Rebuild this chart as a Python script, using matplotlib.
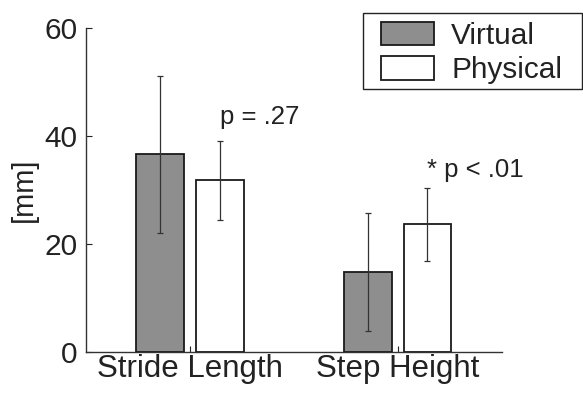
import matplotlib
matplotlib.use("Agg")
import matplotlib.pyplot as plt
from matplotlib.patches import Rectangle
import numpy as np

categories = ["Stride Length", "Step Height"]
series = ["Virtual", "Physical"]
virtual_mean = [36.6, 14.7]
virtual_upper = [51.2, 25.7]
virtual_lower = [22.0, 3.8]
physical_mean = [31.8, 23.6]
physical_upper = [39.0, 30.4]
physical_lower = [24.4, 16.9]
annotations = ["p = .27", "* p < .01"]
yticks = [0, 20, 40, 60]

plt.rcParams['font.family'] = ['Liberation Sans', 'DejaVu Sans']

W, H = 583, 394
fig = plt.figure(figsize=(W / 100, H / 100), dpi=100)
ax = fig.add_axes([86 / W, 1 - 351.7 / H, (501.7 - 86) / W, (351.7 - 28.3) / H])

x = np.arange(1, len(categories) + 1)
w = 0.23
off = 0.143

vm = np.array(virtual_mean)
pm = np.array(physical_mean)
verr = [vm - np.array(virtual_lower), np.array(virtual_upper) - vm]
perr = [pm - np.array(physical_lower), np.array(physical_upper) - pm]

ax.bar(x - off, vm, w, color='#8e8e8e', edgecolor='#1a1a1a', linewidth=1.3,
       label=series[0], zorder=2)
ax.bar(x + off, pm, w, color='white', edgecolor='#1a1a1a', linewidth=1.3,
       label=series[1], zorder=2)
ax.errorbar(x - off, vm, yerr=verr, fmt='none', ecolor='#333333', elinewidth=0.9,
            capsize=2.3, capthick=0.9, zorder=3)
ax.errorbar(x + off, pm, yerr=perr, fmt='none', ecolor='#333333', elinewidth=0.9,
            capsize=2.3, capthick=0.9, zorder=3)

ax.set_xlim(0.5, 2.5)
ax.set_ylim(0, 60)
ax.set_yticks(yticks)
ax.set_xticks(x)
ax.set_xticklabels(categories)
ax.tick_params(axis='both', direction='in', length=4, width=0.8,
               colors='#222222')
ax.tick_params(axis='y', labelsize=21.5, pad=6)
ax.tick_params(axis='x', labelsize=22.5, pad=2)
ax.spines['top'].set_visible(False)
ax.spines['right'].set_visible(False)
for s in ['left', 'bottom']:
    ax.spines[s].set_color('#333333')
    ax.spines[s].set_linewidth(1.0)
ax.set_ylabel('[mm]', fontsize=21, color='#222222', labelpad=5)

ax.text(x[0] + off, physical_upper[0] + 3.2, annotations[0], ha='left',
        va='baseline', fontsize=18.5, color='#222222')
ax.text(x[1] + off - 0.004, physical_upper[1] + 2.1, annotations[1], ha='left',
        va='baseline', fontsize=18.5, color='#222222')

fs = 21.4
fpx = fs * 100 / 72
leg = fig.legend(loc='upper left', bbox_to_anchor=(381 / W, 1 - 21.5 / H),
                 bbox_transform=fig.transFigure, fontsize=fs, frameon=False,
                 borderaxespad=0, borderpad=0,
                 handlelength=53 / fpx, handleheight=25 / fpx,
                 labelspacing=0.23, handletextpad=17 / fpx)
for t in leg.get_texts():
    t.set_color('#222222')
for p in leg.get_patches():
    p.set_linewidth(1.3)
fig.patches.append(Rectangle((363 / W, 1 - 89.3 / H), (582 - 363) / W, (89.3 - 13.3) / H,
                             transform=fig.transFigure, fill=False,
                             edgecolor='#222222', linewidth=1.0))

fig.savefig('out.png', dpi=100)
